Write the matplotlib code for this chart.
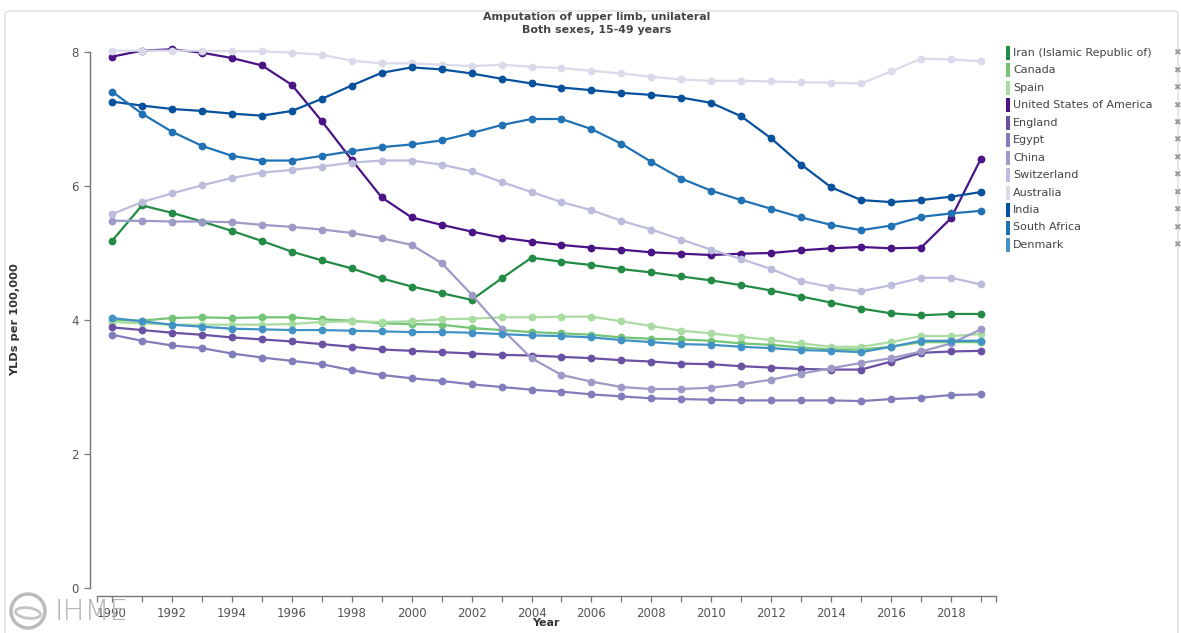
import numpy as np
import matplotlib
matplotlib.use("Agg")
import matplotlib.pyplot as plt
from matplotlib.patches import Rectangle, FancyBboxPatch, Ellipse

years = np.arange(1990, 2020)

iran = [5.18, 5.71, 5.60, 5.47, 5.33, 5.18, 5.02, 4.89, 4.77, 4.62,
        4.50, 4.40, 4.30, 4.62, 4.93, 4.87, 4.82, 4.76, 4.71, 4.65,
        4.59, 4.52, 4.44, 4.35, 4.26, 4.17, 4.10, 4.07, 4.09, 4.09]
canada = [4.00, 3.99, 4.03, 4.04, 4.03, 4.04, 4.04, 4.01, 3.99, 3.95,
          3.94, 3.93, 3.88, 3.85, 3.82, 3.80, 3.78, 3.74, 3.72, 3.71,
          3.69, 3.65, 3.63, 3.59, 3.56, 3.56, 3.60, 3.67, 3.67, 3.67]
spain = [3.97, 3.95, 3.93, 3.93, 3.93, 3.93, 3.94, 3.97, 3.98, 3.97,
         3.98, 4.01, 4.02, 4.04, 4.04, 4.05, 4.05, 3.98, 3.91, 3.84,
         3.80, 3.75, 3.70, 3.65, 3.60, 3.60, 3.67, 3.76, 3.76, 3.79]
usa = [7.93, 8.02, 8.04, 7.99, 7.91, 7.80, 7.51, 6.97, 6.39, 5.83,
       5.53, 5.42, 5.32, 5.23, 5.17, 5.12, 5.08, 5.05, 5.01, 4.99,
       4.97, 4.99, 5.00, 5.04, 5.07, 5.09, 5.07, 5.08, 5.52, 6.41]
england = [3.89, 3.85, 3.81, 3.78, 3.74, 3.71, 3.68, 3.64, 3.60, 3.56,
           3.54, 3.52, 3.50, 3.48, 3.47, 3.45, 3.43, 3.40, 3.38, 3.35,
           3.34, 3.31, 3.29, 3.27, 3.26, 3.26, 3.38, 3.51, 3.53, 3.54]
egypt = [3.78, 3.69, 3.62, 3.58, 3.50, 3.44, 3.39, 3.34, 3.25, 3.18,
         3.13, 3.09, 3.04, 3.00, 2.96, 2.93, 2.89, 2.86, 2.83, 2.82,
         2.81, 2.80, 2.80, 2.80, 2.80, 2.79, 2.82, 2.84, 2.88, 2.89]
china = [5.48, 5.48, 5.47, 5.47, 5.46, 5.42, 5.39, 5.35, 5.30, 5.22,
         5.12, 4.85, 4.38, 3.87, 3.43, 3.18, 3.08, 3.00, 2.97, 2.97,
         2.99, 3.04, 3.11, 3.20, 3.28, 3.36, 3.43, 3.53, 3.65, 3.86]
switzerland = [5.58, 5.76, 5.89, 6.01, 6.12, 6.20, 6.24, 6.29, 6.35, 6.38,
               6.38, 6.32, 6.22, 6.06, 5.91, 5.76, 5.64, 5.48, 5.35, 5.20,
               5.05, 4.91, 4.76, 4.58, 4.49, 4.43, 4.52, 4.63, 4.63, 4.53]
australia = [8.02, 8.02, 8.02, 8.02, 8.01, 8.01, 7.99, 7.96, 7.87, 7.83,
             7.83, 7.81, 7.79, 7.81, 7.78, 7.76, 7.72, 7.68, 7.63, 7.59,
             7.57, 7.57, 7.56, 7.55, 7.54, 7.53, 7.71, 7.90, 7.89, 7.86]
india = [7.26, 7.20, 7.15, 7.12, 7.08, 7.05, 7.12, 7.30, 7.50, 7.69,
         7.77, 7.74, 7.68, 7.60, 7.53, 7.47, 7.43, 7.39, 7.36, 7.32,
         7.24, 7.04, 6.71, 6.32, 5.98, 5.79, 5.76, 5.79, 5.84, 5.91]
south_africa = [7.41, 7.08, 6.81, 6.60, 6.45, 6.38, 6.38, 6.45, 6.52, 6.58,
                6.62, 6.68, 6.79, 6.91, 7.00, 7.00, 6.85, 6.63, 6.36, 6.11,
                5.93, 5.79, 5.66, 5.53, 5.42, 5.34, 5.41, 5.54, 5.59, 5.63]
denmark = [4.03, 3.98, 3.93, 3.90, 3.87, 3.86, 3.85, 3.85, 3.84, 3.83,
           3.82, 3.82, 3.81, 3.79, 3.77, 3.76, 3.74, 3.70, 3.67, 3.64,
           3.63, 3.60, 3.58, 3.55, 3.54, 3.52, 3.60, 3.69, 3.69, 3.69]

names = ["Iran (Islamic Republic of)", "Canada", "Spain", "United States of America",
         "England", "Egypt", "China", "Switzerland", "Australia", "India",
         "South Africa", "Denmark"]
series = [iran, canada, spain, usa, england, egypt, china, switzerland,
          australia, india, south_africa, denmark]
colors = ["#238b45", "#74c476", "#a9dca0", "#4a1486", "#6a51a3", "#807dba",
          "#9e9ac8", "#bcbddc", "#dadaeb", "#08519c", "#2171b5", "#4292c6"]

W, H = 1181, 633
fig = plt.figure(figsize=(W / 100, H / 100), dpi=100)

# light frame around the whole chart
fig.patches.append(FancyBboxPatch((5 / W, -0.05), (W - 8) / W, (H - 6) / H + 0.05 - 5 / H,
                                  boxstyle="round,pad=0,rounding_size=0.005",
                                  transform=fig.transFigure, fill=False,
                                  ec="#dddddd", lw=1))

ax = fig.add_axes([97 / W, 45 / H, 899 / W, 536 / H])
for vals, c in zip(series, colors):
    ax.plot(years, vals, color=c, lw=1.6, marker="o", ms=4.6, clip_on=False)

ax.set_xlim(1989.5, 2019.5)
ax.set_ylim(0, 8)
ax.set_yticks([0, 2, 4, 6, 8])
ax.set_xticks(years)
ax.set_xticklabels([str(y) if y % 2 == 0 else "" for y in years])
ax.set_xticks([1989.5, 2019.5], minor=True)
for s in ["top", "right"]:
    ax.spines[s].set_visible(False)
ax.spines["left"].set_position(("outward", 5))
ax.spines["bottom"].set_position(("outward", 6))
for s in ["left", "bottom"]:
    ax.spines[s].set_color("#777777")
    ax.spines[s].set_linewidth(1)
ax.tick_params(which="both", direction="out", length=4.5, width=0.9,
               color="#777777", labelcolor="#555555", labelsize=8.5)
ax.tick_params(axis="x", pad=3)

fig.text(597 / W, 1 - 17 / H, "Amputation of upper limb, unilateral",
         ha="center", va="center", fontsize=7.9, fontweight="bold", color="#444444")
fig.text(597 / W, 1 - 30 / H, "Both sexes, 15-49 years",
         ha="center", va="center", fontsize=7.9, fontweight="bold", color="#444444")
fig.text(15 / W, 1 - 320 / H, "YLDs per 100,000", rotation=90,
         ha="center", va="center", fontsize=8.2, fontweight="bold", color="#333333")
fig.text(546 / W, 1 - 623 / H, "Year", ha="center", va="center",
         fontsize=8, fontweight="bold", color="#333333")

# legend
for i, (n, c) in enumerate(zip(names, colors)):
    yc = 53 + i * 17.45
    fig.patches.append(Rectangle((1006 / W, 1 - (yc + 7) / H), 4 / W, 14 / H,
                                 transform=fig.transFigure, color=c, lw=0))
    fig.text(1013 / W, 1 - yc / H, n, ha="left", va="center",
             fontsize=8, color="#444444")
    fig.text(1177 / W, 1 - yc / H, "\u2716", ha="center", va="center",
             fontsize=6.5, color="#999999")

# IHME logo
fig.patches.append(Ellipse((28 / W, 1 - 611 / H), 34 / W, 34 / H,
                           transform=fig.transFigure, fill=False,
                           ec="#bbbbbb", lw=2.5))
fig.patches.append(Ellipse((28 / W, 1 - 613 / H), 26 / W, 10 / H, angle=-25,
                           transform=fig.transFigure, fill=False,
                           ec="#c4c4c4", lw=2))
fig.text(54 / W, 1 - 612 / H, "IHME", ha="left", va="center", fontsize=21,
         color="#b5b5b5", family="DejaVu Sans", fontweight="light")

fig.savefig("out.png", dpi=100)
